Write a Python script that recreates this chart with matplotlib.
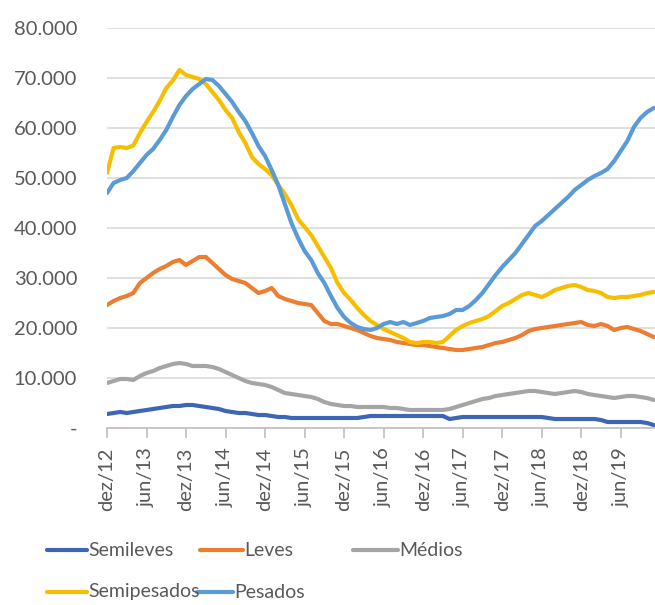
import matplotlib.pyplot as plt
from matplotlib.lines import Line2D
import numpy as np

# monthly fleet counts, dez/12 .. nov/19
meses_labels = ['dez/12', 'jun/13', 'dez/13', 'jun/14', 'dez/14', 'jun/15', 'dez/15',
                'jun/16', 'dez/16', 'jun/17', 'dez/17', 'jun/18', 'dez/18', 'jun/19']

semileves = [2.8, 3.0, 3.2, 3.0, 3.2, 3.4, 3.6, 3.8, 4.0, 4.2, 4.4, 4.4,
             4.6, 4.6, 4.4, 4.2, 4.0, 3.8, 3.4, 3.2, 3.0, 3.0, 2.8, 2.6,
             2.6, 2.4, 2.2, 2.2, 2.0, 2.0, 2.0, 2.0, 2.0, 2.0, 2.0, 2.0,
             2.0, 2.0, 2.0, 2.2, 2.4, 2.4, 2.4, 2.4, 2.4, 2.4, 2.4, 2.4,
             2.4, 2.4, 2.4, 2.4, 1.8, 2.0, 2.2, 2.2, 2.2, 2.2, 2.2, 2.2,
             2.2, 2.2, 2.2, 2.2, 2.2, 2.2, 2.2, 2.0, 1.8, 1.8, 1.8, 1.8,
             1.8, 1.8, 1.8, 1.6, 1.2, 1.2, 1.2, 1.2, 1.2, 1.2, 1.0, 0.6]

leves = [24.6, 25.4, 26.0, 26.4, 27.0, 29.0, 30.0, 31.0, 31.8, 32.4, 33.2, 33.6,
         32.6, 33.4, 34.2, 34.2, 33.0, 31.8, 30.6, 29.8, 29.4, 29.0, 28.0, 27.0,
         27.4, 28.0, 26.4, 25.8, 25.4, 25.0, 24.8, 24.6, 23.0, 21.4, 20.8, 20.8,
         20.4, 20.0, 19.6, 19.0, 18.4, 18.0, 17.8, 17.6, 17.2, 17.0, 16.8, 16.6,
         16.6, 16.4, 16.2, 16.0, 15.8, 15.6, 15.6, 15.8, 16.0, 16.2, 16.6, 17.0,
         17.2, 17.6, 18.0, 18.6, 19.4, 19.8, 20.0, 20.2, 20.4, 20.6, 20.8, 21.0,
         21.2, 20.6, 20.4, 20.8, 20.4, 19.6, 20.0, 20.2, 19.8, 19.4, 18.8, 18.2]

medios = [9.0, 9.4, 9.8, 9.8, 9.6, 10.4, 11.0, 11.4, 12.0, 12.4, 12.8, 13.0,
          12.8, 12.4, 12.4, 12.4, 12.2, 11.8, 11.2, 10.6, 10.0, 9.4, 9.0, 8.8,
          8.6, 8.2, 7.6, 7.0, 6.8, 6.6, 6.4, 6.2, 5.8, 5.2, 4.8, 4.6,
          4.4, 4.4, 4.2, 4.2, 4.2, 4.2, 4.2, 4.0, 4.0, 3.8, 3.6, 3.6,
          3.6, 3.6, 3.6, 3.6, 3.8, 4.2, 4.6, 5.0, 5.4, 5.8, 6.0, 6.4,
          6.6, 6.8, 7.0, 7.2, 7.4, 7.4, 7.2, 7.0, 6.8, 7.0, 7.2, 7.4,
          7.2, 6.8, 6.6, 6.4, 6.2, 6.0, 6.2, 6.4, 6.4, 6.2, 6.0, 5.6]

semipesados = [51.0, 56.0, 56.2, 56.0, 56.5, 59.0, 61.2, 63.2, 65.4, 68.0, 69.5, 71.6,
               70.6, 70.2, 69.8, 68.8, 67.2, 65.6, 63.6, 62.0, 59.2, 57.0, 54.2, 52.8,
               51.8, 50.6, 48.6, 46.8, 44.6, 41.8, 40.2, 38.6, 36.4, 34.2, 32.0, 29.0,
               27.0, 25.6, 24.0, 22.6, 21.4, 20.6, 19.8, 19.2, 18.6, 18.0, 17.2, 17.0,
               17.2, 17.2, 17.0, 17.2, 18.4, 19.6, 20.4, 21.0, 21.4, 21.8, 22.4, 23.4,
               24.4, 25.0, 25.8, 26.6, 27.0, 26.6, 26.2, 26.8, 27.6, 28.0, 28.4, 28.6,
               28.2, 27.6, 27.4, 27.0, 26.2, 26.0, 26.2, 26.2, 26.4, 26.6, 27.0, 27.2]

pesados = [47.0, 49.0, 49.6, 50.0, 51.4, 53.0, 54.6, 55.8, 57.6, 59.6, 62.2, 64.6,
           66.4, 67.8, 68.8, 69.8, 69.6, 68.4, 66.8, 65.2, 63.2, 61.4, 59.0, 56.4,
           54.4, 51.6, 48.6, 44.8, 41.0, 38.0, 35.4, 33.6, 31.0, 29.0, 26.4, 24.0,
           22.2, 21.0, 20.2, 19.8, 19.6, 20.0, 20.8, 21.2, 20.8, 21.2, 20.6, 21.0,
           21.4, 22.0, 22.2, 22.4, 22.8, 23.6, 23.6, 24.4, 25.6, 27.0, 28.8, 30.6,
           32.2, 33.6, 35.0, 36.8, 38.6, 40.4, 41.4, 42.6, 43.8, 45.0, 46.2, 47.6,
           48.6, 49.6, 50.4, 51.0, 51.8, 53.4, 55.4, 57.4, 60.2, 62.0, 63.2, 64.0]

series = [('Semileves', semileves, '#3d66b5'),
          ('Leves', leves, '#ED7D31'),
          ('Médios', medios, '#A5A5A5'),
          ('Semipesados', semipesados, '#F7BE00'),
          ('Pesados', pesados, '#5B9BD5')]

plt.rcParams['font.family'] = ['Lato', 'DejaVu Sans']
txt = '#595959'

fig = plt.figure(figsize=(6.55, 6.05), dpi=100)
ax = fig.add_axes([107 / 655, 177 / 605, 548 / 655, 400 / 605])

x = np.arange(len(pesados))
for nome, vals, cor in series:
    ax.plot(x, np.array(vals) * 1000, color=cor, lw=3, solid_capstyle='round', zorder=3)

ax.set_xlim(0, 83.2)
ax.set_ylim(0, 80000)
yt = np.arange(0, 80001, 10000)
ax.set_yticks(yt)
ax.set_yticklabels(['-'] + ['{:,.0f}'.format(v).replace(',', '.') for v in yt[1:]])
ax.set_xticks(np.arange(0, 84, 6))
ax.set_xticklabels(meses_labels, rotation=90)
ax.grid(axis='y', color='#D9D9D9', lw=1.2)
ax.set_axisbelow(True)
for s in ['top', 'right', 'left']:
    ax.spines[s].set_visible(False)
ax.spines['bottom'].set_color('#BFBFBF')
ax.spines['bottom'].set_linewidth(1.2)
ax.tick_params(axis='y', length=0, pad=21.5, labelsize=14.5, labelcolor=txt)
ax.tick_params(axis='x', length=7, color='#BFBFBF', width=1.2, pad=7,
               labelsize=14.5, labelcolor=txt)

# legend drawn by hand in two rows
leg_pos = [(47, 550, 87), (200, 550, 243), (353, 550, 398),
           (47, 592, 87), (197, 592, 233)]
for (nome, vals, cor), (x0, y0, x1) in zip(series, leg_pos):
    yf = 1 - y0 / 605
    fig.add_artist(Line2D([x0 / 655, x1 / 655], [yf, yf], color=cor, lw=3,
                          solid_capstyle='round'))
    fig.text((x1 + 1) / 655, yf, nome, va='center', ha='left', fontsize=14, color=txt)

fig.savefig('out.png', dpi=100)
